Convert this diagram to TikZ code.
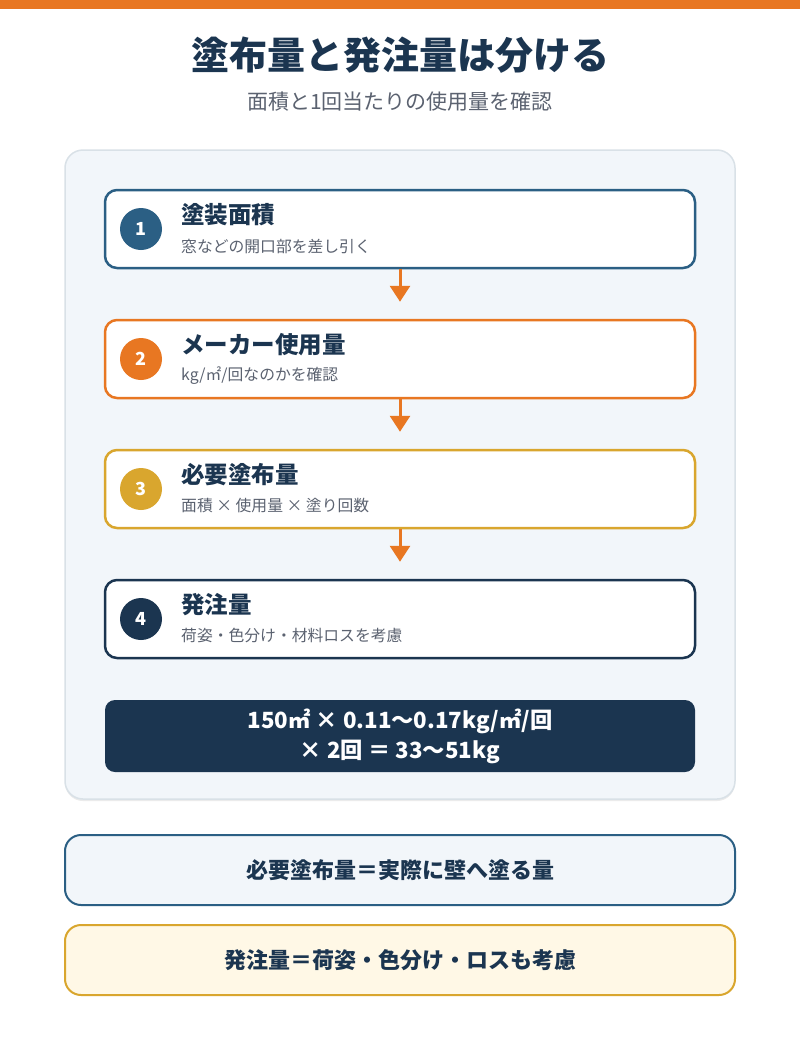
\documentclass[tikz,border=0pt]{standalone}
\usepackage{fontspec}
\setmainfont{Noto Sans CJK JP}
\usetikzlibrary{arrows.meta}
\definecolor{accent}{HTML}{E87722}
\definecolor{stepblue}{HTML}{2B5F84}
\definecolor{stepgold}{HTML}{D9A62E}
\definecolor{navy}{HTML}{1B3550}
\definecolor{panelbg}{HTML}{F2F6FA}
\definecolor{panelline}{HTML}{D9E1E7}
\definecolor{subgray}{HTML}{5B6270}
\definecolor{cream}{HTML}{FFF8E6}
\begin{document}
\begin{tikzpicture}[x=1pt,y=-1pt,
	stepbox/.style={draw,line width=2.5pt,fill=white,rounded corners=12pt,minimum width=590pt,minimum height=78pt,inner sep=0pt},
	numdot/.style={circle,minimum size=42pt,inner sep=0pt,text=white,font=\fontsize{18}{21}\selectfont\bfseries},
	steptitle/.style={anchor=west,inner sep=0pt,text=navy,font=\fontsize{23.5}{27}\selectfont\bfseries},
	stepsub/.style={anchor=west,inner sep=0pt,text=subgray,font=\fontsize{15.8}{19}\selectfont},
	notebox/.style={draw,line width=2pt,rounded corners=16pt,minimum width=670pt,minimum height=70pt,text=navy,font=\fontsize{22}{26}\selectfont\bfseries},
	arr/.style={accent,line width=3pt,-{Triangle[length=16pt,width=20pt]},shorten >=17pt}]
	\useasboundingbox (0,0) rectangle (800,1050);
	\fill[white] (0,0) rectangle (800,1050);
	\fill[accent] (0,0) rectangle (800,9);
	\node[text=navy,font=\fontsize{38}{44}\selectfont\bfseries] (title) at (400,55) {塗布量と発注量は分ける};
	\node[text=subgray,font=\fontsize{21}{25}\selectfont] (subtitle) at (400,102) {面積と1回当たりの使用量を確認};
	% panel
	\fill[black!8,rounded corners=18pt] (65,152) rectangle (735,801);
	\draw[panelline,fill=panelbg,line width=1.5pt,rounded corners=18pt] (65,150) rectangle (735,799);
	\foreach \i/\col/\y/\ttl/\sub in {1/stepblue/229/塗装面積/窓などの開口部を差し引く,
		2/accent/359/メーカー使用量/{kg/㎡/回なのかを確認},
		3/stepgold/489/必要塗布量/面積 × 使用量 × 塗り回数,
		4/navy/619/発注量/荷姿・色分け・材料ロスを考慮}{
		\node[stepbox,draw=\col] (s\i) at (400,\y) {};
		\node[numdot,fill=\col] (n\i) at (141,\y) {\i};
		\node[steptitle] (t\i) at (181,\y-14) {\ttl};
		\node[stepsub] (d\i) at (181,\y+17) {\sub};
	}
	\foreach \a/\b in {1/2,2/3,3/4}{\draw[arr] (s\a) -- (s\b);}
	\node[fill=navy,rounded corners=10pt,minimum width=590pt,minimum height=72pt,text=white,align=center,
		font=\fontsize{22.3}{30}\selectfont\bfseries] (calc) at (400,736) {150㎡ × 0.11〜0.17kg/㎡/回\\× 2回 ＝ 33〜51kg};
	% notes
	\node[notebox,draw=stepblue,fill=panelbg] (note1) at (400,870) {必要塗布量＝実際に壁へ塗る量};
	\node[notebox,draw=stepgold,fill=cream] (note2) at (400,960) {発注量＝荷姿・色分け・ロスも考慮};
\end{tikzpicture}
\end{document}
